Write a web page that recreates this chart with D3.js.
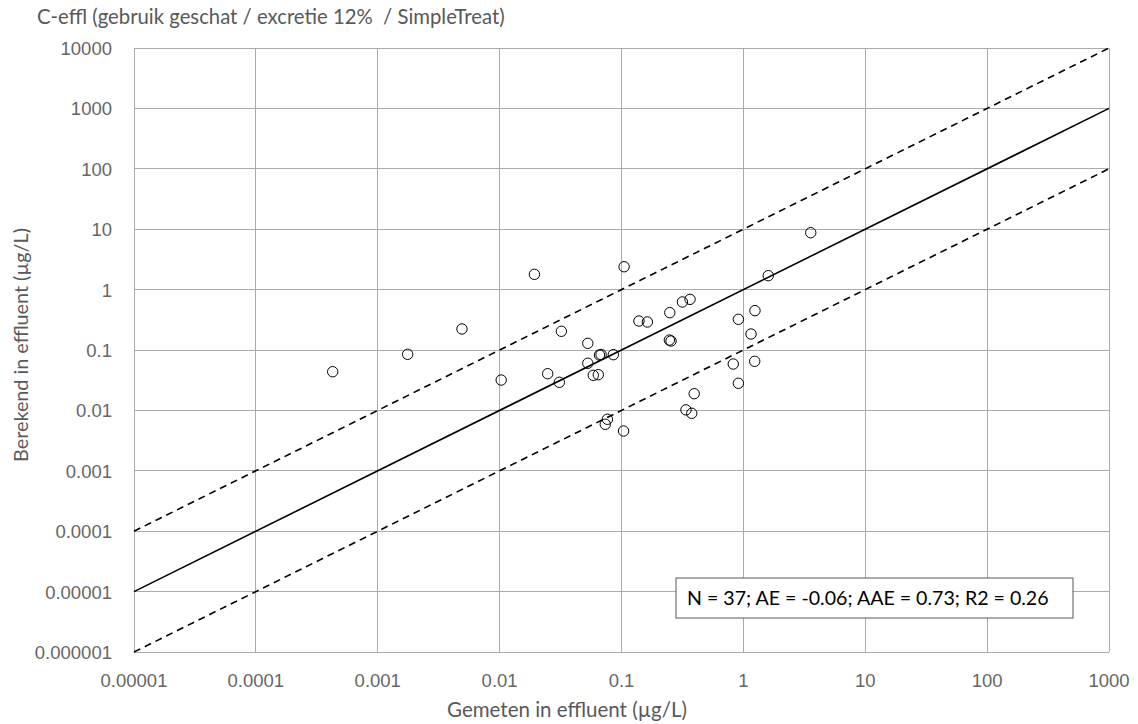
<!DOCTYPE html>
<html><head><meta charset="utf-8">
<script src="https://cdn.jsdelivr.net/npm/d3@7"></script>
<style>body{margin:0;background:#fff}svg{display:block}text{white-space:pre}</style>
</head><body><svg id="c" width="1138" height="724"></svg>
<script>
const title = "C-effl (gebruik geschat / excretie 12%  / SimpleTreat)";
const xLabel = "Gemeten in effluent (µg/L)";
const yLabel = "Berekend in effluent (µg/L)";
const statsText = "N = 37; AE = -0.06; AAE = 0.73; R2 = 0.26";
const xTicks = [0.00001, 0.0001, 0.001, 0.01, 0.1, 1, 10, 100, 1000];
const xTickLabels = ["0.00001","0.0001","0.001","0.01","0.1","1","10","100","1000"];
const yTicks = [0.000001,0.00001,0.0001,0.001,0.01,0.1,1,10,100,1000,10000];
const yTickLabels = ["0.000001","0.00001","0.0001","0.001","0.01","0.1","1","10","100","1000","10000"];
// measured (x) and calculated (y) concentrations
const measured = [0.000427,0.00176,0.00491,0.0103,0.0193,0.105,0.0321,0.0529,0.0660,0.0680,0.0857,0.0529,0.0587,0.0645,0.0248,0.0309,0.139,0.163,0.249,0.316,0.365,0.247,0.255,0.910,0.826,0.910,0.395,0.338,0.377,0.0766,0.0736,0.104,3.57,1.60,1.245,1.156,1.239];
const calculated = [0.0437,0.0849,0.223,0.0318,1.79,2.39,0.204,0.129,0.0826,0.0840,0.0836,0.0603,0.0381,0.0390,0.0405,0.0292,0.302,0.291,0.415,0.624,0.690,0.146,0.141,0.322,0.0586,0.0281,0.0189,0.0102,0.00895,0.00713,0.00589,0.00456,8.75,1.70,0.448,0.184,0.0650];
// reference lines: factor relative to 1:1
const refFactors = [10, 1, 0.1];
const lineDomain = [0.00001, 1000];

const svg = d3.select("#c");
const L = 134, R = 1109, T = 48, B = 652;
const x = d3.scaleLog().domain([0.00001, 1000]).range([L, R]);
const y = d3.scaleLog().domain([0.000001, 10000]).range([B, T]);
const gridCol = "#ababab";

// gridlines
svg.append("g").selectAll("line").data(xTicks).join("line")
  .attr("x1", d => x(d)).attr("x2", d => x(d)).attr("y1", T).attr("y2", B)
  .attr("stroke", gridCol).attr("stroke-width", 1).attr("shape-rendering","crispEdges");
svg.append("g").selectAll("line").data(yTicks).join("line")
  .attr("y1", d => y(d)).attr("y2", d => y(d)).attr("x1", L).attr("x2", R)
  .attr("stroke", gridCol).attr("stroke-width", 1).attr("shape-rendering","crispEdges");

// tick labels
const tickFont = "'Liberation Sans', Arial, sans-serif";
svg.append("g").selectAll("text").data(xTicks).join("text")
  .attr("x", d => x(d)).attr("y", 687).attr("text-anchor", "middle")
  .attr("font-family", tickFont).attr("font-size", 18.5).attr("fill", "#666")
  .text((d, i) => xTickLabels[i]);
svg.append("g").selectAll("text").data(yTicks).join("text")
  .attr("x", 112).attr("y", d => y(d) + 7).attr("text-anchor", "end")
  .attr("font-family", tickFont).attr("font-size", 18.5).attr("fill", "#666")
  .text((d, i) => yTickLabels[i]);

// reference lines
const line = d3.line().x(d => x(d[0])).y(d => y(d[1]));
refFactors.forEach(f => {
  svg.append("path").datum(lineDomain.map(v => [v, v * f]))
    .attr("d", line).attr("fill", "none").attr("stroke", "#000")
    .attr("stroke-width", 1.6)
    .attr("stroke-dasharray", f === 1 ? null : "7,5");
});

// points
svg.append("g").selectAll("circle").data(measured).join("circle")
  .attr("cx", d => x(d)).attr("cy", (d, i) => y(calculated[i]))
  .attr("r", 5.2).attr("fill", "none").attr("stroke", "#000").attr("stroke-width", 1);

// text helper fitting to a width
const textFont = "Lato, 'Open Sans', sans-serif";
function fitText(sel, w) {
  const n = sel.node();
  const cur = n.getComputedTextLength();
  const fs = parseFloat(sel.attr("font-size"));
  sel.attr("font-size", fs * w / cur);
}

// stats box
const bx0 = 676, bx1 = 1073, by0 = 578, by1 = 618;
svg.append("rect").attr("x", bx0).attr("y", by0).attr("width", bx1 - bx0).attr("height", by1 - by0)
  .attr("fill", "#fff").attr("stroke", "#595959").attr("stroke-width", 1);
const st = svg.append("text").attr("x", 687).attr("y", 604.5)
  .attr("font-family", textFont).attr("font-size", 18).attr("fill", "#000").text(statsText);
fitText(st, 362);

// title
const tt = svg.append("text").attr("x", 37).attr("y", 24)
  .attr("font-family", textFont).attr("font-size", 18).attr("fill", "#595959").text(title);
fitText(tt, 468);

// axis titles
const xl = svg.append("text").attr("x", 567).attr("y", 717).attr("text-anchor", "middle")
  .attr("font-family", textFont).attr("font-size", 18).attr("fill", "#595959").text(xLabel);
fitText(xl, 240);
const yl = svg.append("text").attr("transform", "translate(28,345) rotate(-90)").attr("text-anchor", "middle")
  .attr("font-family", textFont).attr("font-size", 18).attr("fill", "#595959").text(yLabel);
fitText(yl, 234);
</script></body></html>
